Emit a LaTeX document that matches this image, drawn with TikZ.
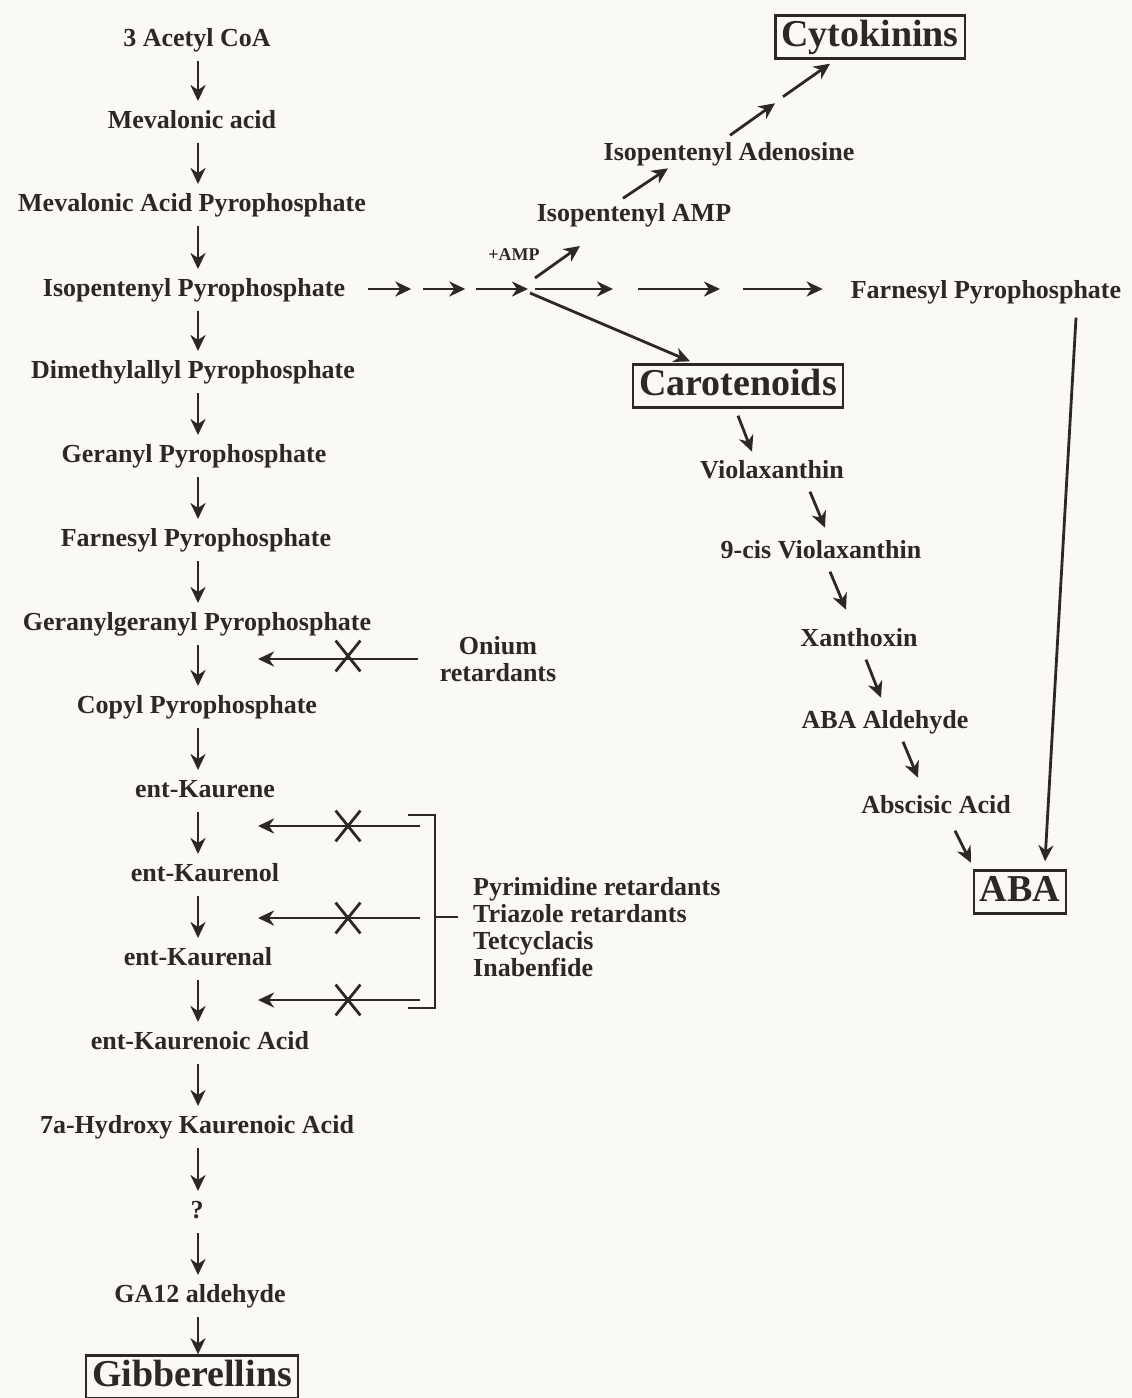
\documentclass[tikz,border=0pt]{standalone}
\usepackage{fontspec}
\setmainfont{Liberation Serif}
\usetikzlibrary{arrows.meta,shapes.misc,calc}
\definecolor{ink}{RGB}{45,40,38}
\definecolor{paper}{RGB}{251,249,244}
\begin{document}
\begin{tikzpicture}[x=1pt,y=-1pt,
  lab/.style={font=\fontsize{26}{28}\selectfont\bfseries, text=ink, inner sep=0pt, text height=18pt, text depth=5pt},
  multi/.style={font=\fontsize{26}{27}\selectfont\bfseries, text=ink, inner sep=0pt},
  small/.style={font=\fontsize{18}{19}\selectfont\bfseries, text=ink, inner sep=0pt},
  boxed/.style={draw=ink, line width=2.4pt, font=\fontsize{38}{40}\selectfont\bfseries, text=ink, inner xsep=6pt, inner ysep=4pt, text height=27pt, text depth=8pt},
  arr/.style={draw=ink, line width=2.8pt, -{Stealth[length=16pt,width=15pt,inset=5pt]}},
  down/.style={arr, shorten <=21pt, shorten >=21pt},
  xmark/.style={cross out, draw=ink, line width=2.8pt, minimum width=22pt, minimum height=28pt, inner sep=0pt},
  brk/.style={draw=ink, line width=2.6pt}
]
\fill[paper] (0,0) rectangle (1132,1398);
\useasboundingbox (0,0) rectangle (1132,1398);

% left column
\node[lab] (n1) at (197,40) {3 Acetyl CoA};
\node[lab] (n2) at (192,122) {Mevalonic acid};
\node[lab] (n3) at (192,205) {Mevalonic Acid Pyrophosphate};
\node[lab] (n4) at (194,290) {Isopentenyl Pyrophosphate};
\node[lab] (n5) at (193,372) {Dimethylallyl Pyrophosphate};
\node[lab] (n6) at (194,456) {Geranyl Pyrophosphate};
\node[lab] (n7) at (196,540) {Farnesyl Pyrophosphate};
\node[lab] (n8) at (197,624) {Geranylgeranyl Pyrophosphate};
\node[lab] (n9) at (197,707) {Copyl Pyrophosphate};
\node[lab] (n10) at (205,791) {ent-Kaurene};
\node[lab] (n11) at (205,875) {ent-Kaurenol};
\node[lab] (n12) at (198,959) {ent-Kaurenal};
\node[lab] (n13) at (200,1043) {ent-Kaurenoic Acid};
\node[lab] (n14) at (197,1127) {7a-Hydroxy Kaurenoic Acid};
\node[lab] (n15) at (197,1212) {?};
\node[lab] (n16) at (200,1296) {GA12 aldehyde};
\node[boxed] (n17) at (192,1377) {Gibberellins};

\coordinate (ax) at (198,0);
\foreach \a/\b in {n1/n2,n2/n3,n3/n4,n4/n5,n5/n6,n6/n7,n7/n8,n8/n9,n9/n10,n10/n11,n11/n12,n12/n13,n13/n14,n14/n15,n15/n16}
  \draw[down] (\a -| ax) -- (\b -| ax);
\draw[arr, shorten <=21pt] (n16 -| ax) -- (n17.north -| ax);

% inhibitors
\coordinate (tx) at (258,0);
\node[multi, align=center] (om) at (498,659) {Onium\\retardants};
\draw[arr, shorten <=22pt] (om.west) -- (om.west -| tx);
\node[xmark] (x1) at (348,656) {};

\coordinate (b1) at (420,826);
\coordinate (b2) at (420,918);
\coordinate (b3) at (420,1000);
\draw[arr] (b1) -- (b1 -| tx);
\draw[arr] (b2) -- (b2 -| tx);
\draw[arr] (b3) -- (b3 -| tx);
\node[xmark] (x2) at (348,826) {};
\node[xmark] (x3) at (348,918) {};
\node[xmark] (x4) at (348,1000) {};
\coordinate (bt0) at (408,815);
\coordinate (bt1) at (435,815);
\coordinate (bb1) at (435,1008);
\coordinate (bb0) at (408,1008);
\coordinate (bm0) at (435,917);
\coordinate (bm1) at (458,917);
\draw[brk] (bt0) -- (bt1) -- (bb1) -- (bb0);
\draw[brk] (bm0) -- (bm1);
\node[multi, align=left, anchor=west] (grp) at (473,927) {Pyrimidine retardants\\Triazole retardants\\Tetcyclacis\\Inabenfide};

% branch point
\coordinate (J) at (528,289);
\draw[arr] ([xshift=23pt,yshift=1pt]n4.east) -- ++(43,0);
\draw[arr] ([xshift=78pt,yshift=1pt]n4.east) -- ++(42,0);
\draw[arr] ([xshift=131pt,yshift=1pt]n4.east) -- (J);

\node[lab] (fp) at (986,292) {Farnesyl Pyrophosphate};
\draw[arr] ([xshift=7pt]J) -- ++(78,0);
\draw[arr] ([xshift=110pt]J) -- ++(82,0);
\draw[arr] ([xshift=-108pt,yshift=3pt]fp.west) -- ++(80,0);

% cytokinin branch
\node[small] (amp) at (514,255) {+AMP};
\node[lab] (ia) at (634,215) {Isopentenyl AMP};
\node[lab] (iad) at (729,154) {Isopentenyl Adenosine};
\node[boxed] (ck) at (870,37) {Cytokinins};
\draw[arr] ([shift={(7,-11)}]J) -- ++(45,-32);
\draw[arr] ([shift={(-11,-5)}]ia.north) -- ++(45,-30);
\draw[arr] ([shift={(1,-7)}]iad.north) -- ++(45,-32);
\draw[arr] ([shift={(-87,37)}]ck.south) -- ([shift={(-40,4)}]ck.south);

% carotenoid branch
\node[boxed] (car) at (738,386) {Carotenoids};
\draw[arr] ([shift={(2,4)}]J) -- ([shift={(-48,-2)}]car.north);
\node[lab] (vx) at (772,472) {Violaxanthin};
\node[lab] (nc) at (821,552) {9-cis Violaxanthin};
\node[lab] (xan) at (859,640) {Xanthoxin};
\node[lab] (abal) at (885,722) {ABA Aldehyde};
\node[lab] (absa) at (936,807) {Abscisic Acid};
\node[boxed] (aba) at (1020,892) {ABA};
\draw[arr] ([shift={(0,7)}]car.south) -- ++(14,36);
\draw[arr] ([shift={(38,8)}]vx.south) -- ++(15,36);
\draw[arr] ([shift={(9,8)}]nc.south) -- ++(16,38);
\draw[arr] ([shift={(7,8)}]xan.south) -- ++(15,38);
\draw[arr] ([shift={(18,8)}]abal.south) -- ++(15,36);
\draw[arr] ([shift={(19,12)}]absa.south) -- ++(16,32);
\draw[arr] ([shift={(90,14)}]fp.south) -- ([shift={(25,-8)}]aba.north);
\end{tikzpicture}
\end{document}
